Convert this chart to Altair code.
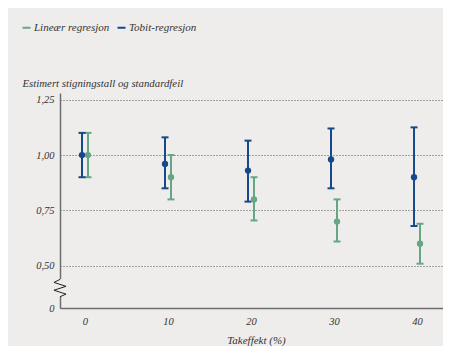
import altair as alt
import pandas as pd

takeffekt = [0, 10, 20, 30, 40]
series_names = ["Lineær regresjon", "Tobit-regresjon"]
tobit_est = [1.00, 0.96, 0.93, 0.98, 0.90]
tobit_lo = [0.90, 0.85, 0.79, 0.85, 0.68]
tobit_hi = [1.10, 1.08, 1.065, 1.12, 1.125]
lin_est = [1.00, 0.90, 0.80, 0.70, 0.60]
lin_lo = [0.90, 0.80, 0.705, 0.61, 0.51]
lin_hi = [1.10, 1.00, 0.90, 0.80, 0.69]
y_ticks = [0.31, 0.5, 0.75, 1.0, 1.25]

rows = []
for i, t in enumerate(takeffekt):
    rows.append({"takeffekt": t, "serie": series_names[0], "est": lin_est[i], "lo": lin_lo[i], "hi": lin_hi[i], "off": 0.36})
    rows.append({"takeffekt": t, "serie": series_names[1], "est": tobit_est[i], "lo": tobit_lo[i], "hi": tobit_hi[i], "off": -0.36})
df = pd.DataFrame(rows)

BG = "#eeedeb"
GREEN = "#66a684"
BLUE = "#15498a"
FONT = "Liberation Serif"
TXT = "#333333"

color = alt.Color(
    "serie:N",
    scale=alt.Scale(domain=series_names, range=[GREEN, BLUE]),
    legend=alt.Legend(
        orient="none", legendX=-39, legendY=-71, direction="horizontal",
        title=None, symbolType="stroke", symbolSize=64, symbolStrokeWidth=2,
        labelFont=FONT, labelFontStyle="italic", labelFontSize=11, labelColor=TXT,
        columnPadding=3, labelOffset=2,
    ),
)

x = alt.X(
    "xpos:Q",
    scale=alt.Scale(domain=[-3.01, 43.13], nice=False, zero=False),
    axis=alt.Axis(
        values=takeffekt, title="Takeffekt (%)", ticks=False, grid=False,
        labelFont=FONT, labelFontStyle="italic", labelFontSize=10.5, labelColor=TXT,
        labelPadding=8, labelExpr="format(round(datum.value), 'd')",
        titleFont=FONT, titleFontStyle="italic", titleFontWeight="normal", titleFontSize=11,
        titleColor=TXT, titlePadding=8, titleX=196, titleAlign="center",
        domainColor="#6e6e6e", domainWidth=1.5,
    ),
)
y_scale = alt.Scale(domain=[0.31, 1.28], nice=False, zero=False)
y_axis = alt.Axis(
    values=y_ticks, ticks=False, grid=True, gridDash=[1, 2], gridColor="#555555", gridWidth=1,
    labelExpr="datum.value < 0.4 ? '0' : replace(format(datum.value, '.2f'), '.', ',')",
    labelFont=FONT, labelFontStyle="italic", labelFontSize=10.5, labelColor=TXT, labelPadding=6,
    title="Estimert stigningstall og standardfeil", titleAngle=0, titleX=-38, titleY=-7,
    titleAlign="left", titleBaseline="alphabetic",
    titleFont=FONT, titleFontStyle="italic", titleFontWeight="normal", titleFontSize=10.8, titleColor=TXT,
    domainColor="#6e6e6e", domainWidth=1.5,
)

base = alt.Chart(df).transform_calculate(xpos="datum.takeffekt + datum.off")

rules = base.mark_rule(strokeWidth=2).encode(
    x=x, y=alt.Y("lo:Q", scale=y_scale, axis=y_axis), y2="hi:Q", color=color
)
caps_lo = base.mark_point(shape="stroke", size=49, strokeWidth=2, opacity=1).encode(
    x="xpos:Q", y="lo:Q", color=color
)
caps_hi = base.mark_point(shape="stroke", size=49, strokeWidth=2, opacity=1).encode(
    x="xpos:Q", y="hi:Q", color=color
)
dots = base.mark_circle(size=40, opacity=1).encode(
    x="xpos:Q", y="est:Q", color=color
)

gap = alt.Chart(pd.DataFrame({"a": [0]})).mark_rule(stroke=BG, strokeWidth=4).encode(
    x=alt.value(0), y=alt.datum(0.36), y2=alt.datum(0.44)
)
zig = alt.Chart(pd.DataFrame({"a": [0]})).mark_point(
    shape="M0,-1L-0.7,-0.65L0.7,-0.2L-0.7,0.25L0.7,0.7L0,1",
    size=300, filled=False, stroke="#222222", strokeWidth=1, opacity=1,
).encode(x=alt.value(0), y=alt.datum(0.40))

chart = alt.layer(rules, caps_lo, caps_hi, dots, gap, zig).properties(
    width=383, height=215,
    autosize=alt.AutoSizeParams(type="none"),
    padding={"left": 52, "top": 85, "right": 0, "bottom": 38},
    background=BG,
).configure_view(stroke=None)

chart.save("out.html", embed_options={"renderer": "svg", "actions": False})
